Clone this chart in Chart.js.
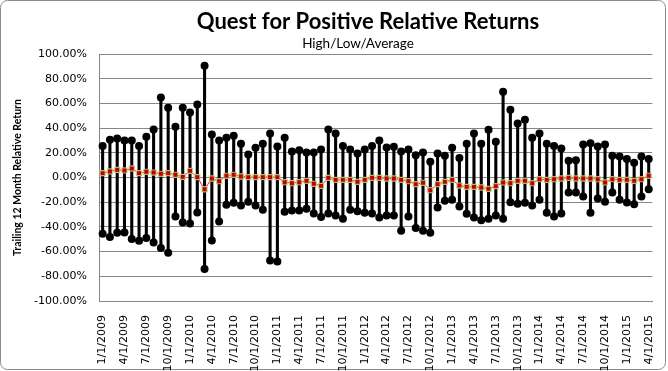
<!DOCTYPE html>
<html>
<head>
<meta charset="utf-8">
<script src="https://cdn.jsdelivr.net/npm/chart.js@4.4.1/dist/chart.umd.min.js"></script>
<style>
  html, body { margin: 0; padding: 0; background: #fff; }
  #wrap { width: 668px; height: 371px; }
</style>
</head>
<body>
<div id="wrap"><canvas id="chart" width="668" height="371"></canvas></div>
<script>
const months = [
  '1/1/2009', '2/1/2009', '3/1/2009', '4/1/2009', '5/1/2009', '6/1/2009', '7/1/2009', '8/1/2009', '9/1/2009', '10/1/2009', '11/1/2009', '12/1/2009',
  '1/1/2010', '2/1/2010', '3/1/2010', '4/1/2010', '5/1/2010', '6/1/2010', '7/1/2010', '8/1/2010', '9/1/2010', '10/1/2010', '11/1/2010', '12/1/2010',
  '1/1/2011', '2/1/2011', '3/1/2011', '4/1/2011', '5/1/2011', '6/1/2011', '7/1/2011', '8/1/2011', '9/1/2011', '10/1/2011', '11/1/2011', '12/1/2011',
  '1/1/2012', '2/1/2012', '3/1/2012', '4/1/2012', '5/1/2012', '6/1/2012', '7/1/2012', '8/1/2012', '9/1/2012', '10/1/2012', '11/1/2012', '12/1/2012',
  '1/1/2013', '2/1/2013', '3/1/2013', '4/1/2013', '5/1/2013', '6/1/2013', '7/1/2013', '8/1/2013', '9/1/2013', '10/1/2013', '11/1/2013', '12/1/2013',
  '1/1/2014', '2/1/2014', '3/1/2014', '4/1/2014', '5/1/2014', '6/1/2014', '7/1/2014', '8/1/2014', '9/1/2014', '10/1/2014', '11/1/2014', '12/1/2014',
  '1/1/2015', '2/1/2015', '3/1/2015', '4/1/2015'
];

// trailing 12 month relative return, in percent
const highs = [
  25.6, 30.5, 31.6, 30.0, 30.0, 25.6, 32.9, 38.9, 64.8, 56.4, 41.0, 56.4,
  52.7, 59.1, 90.5, 34.8, 30.0, 32.1, 33.8, 27.3, 18.6, 24.0, 27.3, 35.6,
  25.1, 32.1, 21.1, 22.1, 20.3, 20.3, 22.7, 38.9, 35.6, 25.6, 22.7, 19.4,
  22.7, 25.6, 30.0, 24.3, 24.8, 21.1, 22.7, 18.1, 20.3, 12.7, 19.4, 17.6,
  24.0, 15.7, 27.3, 35.6, 27.3, 38.6, 28.9, 69.4, 54.8, 43.7, 46.7, 32.1,
  35.6, 27.3, 25.6, 23.5, 13.5, 14.0, 26.7, 27.8, 25.1, 26.7, 17.6, 17.0,
  14.9, 11.9, 17.0, 14.9
];
const lows = [
  -45.6, -48.1, -44.8, -44.6, -49.7, -51.3, -48.9, -52.7, -57.0, -61.0, -31.6, -36.5,
  -37.3, -28.4, -74.0, -51.0, -35.6, -22.1, -20.5, -22.7, -19.7, -22.7, -26.2, -67.2,
  -68.0, -27.8, -26.7, -26.7, -25.4, -29.2, -31.9, -29.2, -30.8, -33.5, -26.2, -27.3,
  -28.6, -29.2, -32.4, -30.8, -30.8, -43.2, -31.6, -40.8, -43.2, -44.8, -24.3, -18.9,
  -18.1, -23.5, -29.4, -32.4, -34.6, -33.5, -30.8, -33.5, -20.0, -21.3, -20.5, -22.7,
  -18.1, -28.6, -31.6, -29.2, -12.2, -12.2, -15.4, -28.6, -17.0, -19.7, -12.2, -18.1,
  -20.3, -21.6, -15.4, -9.5
];
const averages = [
  3.5, 4.9, 6.2, 5.7, 7.3, 3.5, 4.6, 4.0, 3.0, 3.5, 2.2, 0.5,
  5.4, 0.3, -9.5, -0.8, -3.0, 1.4, 2.2, 0.8, 0.3, 0.3, 0.3, 0.3,
  0.3, -3.8, -4.6, -3.8, -2.7, -5.1, -6.8, -0.3, -1.9, -1.9, -1.9, -3.5,
  -1.9, -0.3, -0.3, -0.8, -0.8, -1.9, -3.0, -5.4, -4.3, -10.3, -5.4, -3.5,
  -1.9, -6.5, -7.6, -7.6, -8.1, -9.2, -7.0, -4.0, -4.6, -2.7, -2.7, -4.6,
  -1.4, -1.9, -1.4, -0.8, -0.3, -0.8, -0.8, -0.8, -1.4, -4.0, -1.4, -1.9,
  -1.9, -2.7, -1.4, 1.4
];

const titleText = 'Quest for Positive Relative Returns';
const subtitleText = 'High/Low/Average';
const yAxisTitle = 'Trailing 12 Month Relative Return';

const ranges = lows.map((lo, i) => [lo, highs[i]]);

const frame = {
  id: 'frame',
  beforeDraw(chart) {
    const ctx = chart.ctx;
    ctx.save();
    ctx.fillStyle = '#fff';
    ctx.fillRect(0, 0, chart.width, chart.height);
    ctx.strokeStyle = '#8c8c8c';
    ctx.lineWidth = 1;
    ctx.beginPath();
    ctx.roundRect(0.5, 0.5, 665, 369, 7);
    ctx.stroke();
    ctx.restore();
  },
  afterDraw(chart) {
    const ctx = chart.ctx;
    ctx.save();
    ctx.fillStyle = '#000';
    ctx.textAlign = 'center';
    ctx.textBaseline = 'middle';
    ctx.font = 'bold 22px Lato';
    ctx.fillText(titleText, 368, 22);
    ctx.font = '13.5px Lato';
    ctx.fillText(subtitleText, 358, 44);
    ctx.restore();
  }
};

new Chart(document.getElementById('chart'), {
  type: 'bar',
  data: {
    labels: months,
    datasets: [
      {
        type: 'line',
        label: 'Average',
        data: averages,
        order: 0,
        borderColor: '#e02018',
        borderWidth: 1,
        tension: 0,
        pointStyle: 'rect',
        pointRadius: 3.6,
        pointBackgroundColor: '#c00000',
        pointBorderColor: 'rgba(196,208,130,0.85)',
        pointBorderWidth: 1.2
      },
      {
        type: 'line',
        label: 'High',
        data: highs,
        order: 1,
        showLine: false,
        pointRadius: 4,
        pointBackgroundColor: '#000',
        pointBorderColor: '#000',
        pointBorderWidth: 0
      },
      {
        type: 'line',
        label: 'Low',
        data: lows,
        order: 1,
        showLine: false,
        pointRadius: 4,
        pointBackgroundColor: '#000',
        pointBorderColor: '#000',
        pointBorderWidth: 0
      },
      {
        type: 'bar',
        label: 'Range',
        data: ranges,
        order: 2,
        grouped: false,
        backgroundColor: '#000',
        borderWidth: 0,
        barThickness: 2.4
      }
    ]
  },
  options: {
    responsive: false,
    animation: false,
    devicePixelRatio: 1,
    layout: { padding: { top: 54, right: 13, left: 0, bottom: 0 } },
    plugins: {
      legend: { display: false },
      tooltip: { enabled: false }
    },
    scales: {
      x: {
        grid: { display: false },
        border: { color: '#868686' },
        ticks: {
          autoSkip: false,
          maxRotation: 90,
          minRotation: 90,
          padding: 6,
          color: '#000',
          font: { family: 'DejaVu Sans', size: 11 },
          callback: (v, i) => (i % 3 === 0 ? months[i] : '')
        },
        afterFit: (s) => { s.height = 70; }
      },
      y: {
        min: -100,
        max: 100,
        grid: { color: '#868686', drawTicks: false },
        border: { color: '#868686' },
        ticks: {
          stepSize: 20,
          padding: 12,
          color: '#000',
          font: { family: 'DejaVu Sans', size: 11 },
          callback: (v) => (Math.abs(v) < 1e-9 ? 0 : v).toFixed(2) + '%'
        },
        title: {
          display: true,
          text: yAxisTitle,
          color: '#000',
          padding: { top: 11, bottom: 0 },
          font: { family: 'Lato', size: 10.5, weight: 'bold' }
        },
        afterFit: (s) => { s.width = 99; }
      }
    }
  },
  plugins: [frame]
});
</script>
</body>
</html>
